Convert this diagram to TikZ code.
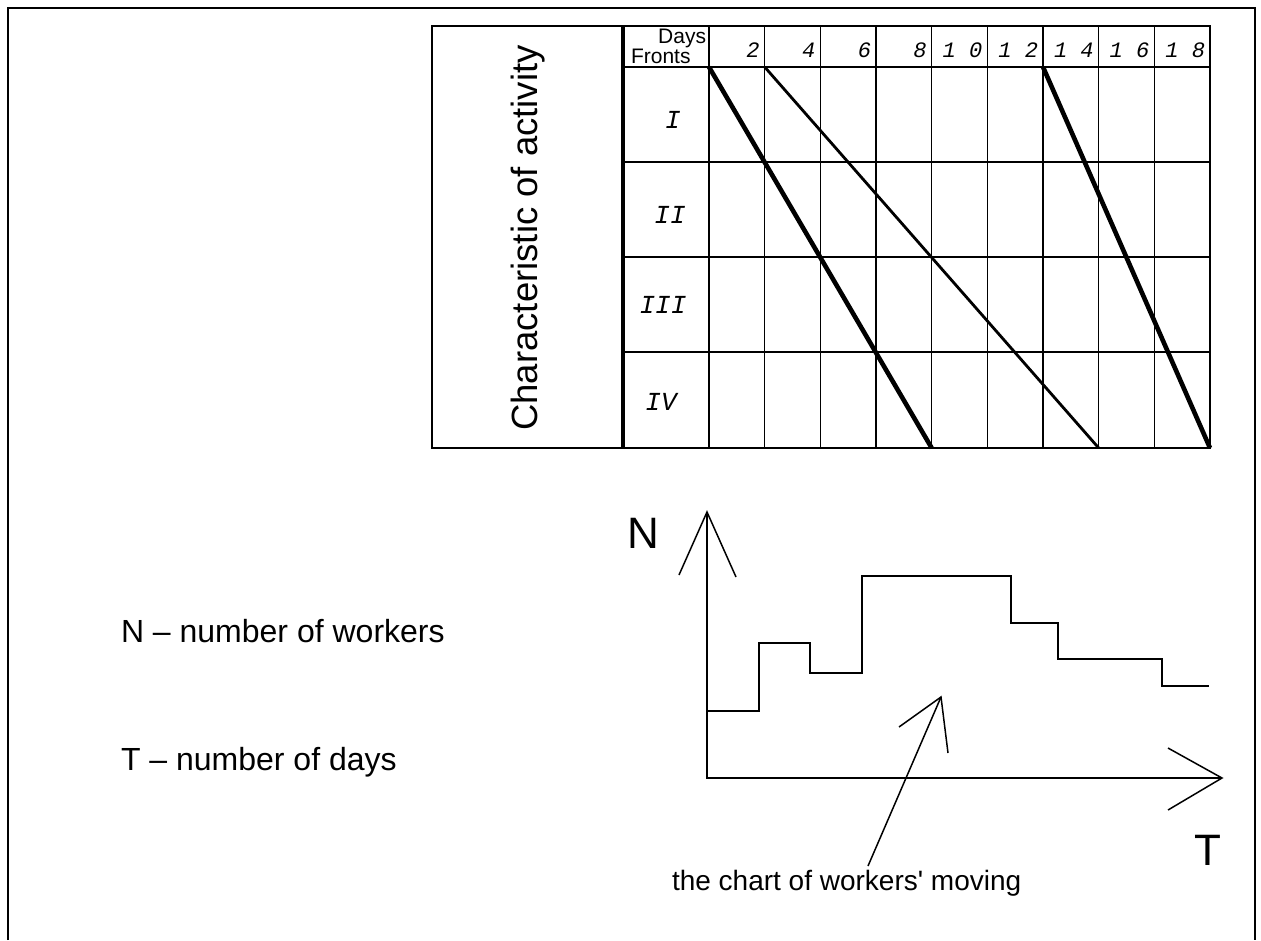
\documentclass[tikz,border=0pt]{standalone}
\usepackage{fontspec}
\setmainfont{Liberation Sans}
\newfontfamily\plainsans{Liberation Sans}
\newfontfamily\monofnt{Liberation Mono}
\begin{document}
\begin{tikzpicture}[x=1pt,y=-1pt,line join=miter,
  frame/.style={line width=2pt},
  gridline/.style={line width=1.6pt},
  heavyline/.style={line width=4.6pt},
  lightline/.style={line width=2.8pt},
  plotline/.style={line width=1.8pt},
  barb/.style={line width=1.5pt},
  txt/.style={inner sep=0pt,outer sep=0pt},
  bigtxt/.style={txt,font=\fontsize{32}{36}\selectfont},
  captxt/.style={txt,font=\plainsans\fontsize{28}{32}\selectfont},
  axtxt/.style={txt,font=\fontsize{44}{48}\selectfont},
  sidetxt/.style={txt,font=\fontsize{36.5}{40}\selectfont,rotate=90},
  headtxt/.style={txt,font=\fontsize{21}{22}\selectfont},
  numtxt/.style={txt,font=\monofnt\itshape\fontsize{22}{24}\selectfont},
  romtxt/.style={txt,font=\monofnt\itshape\fontsize{26}{28}\selectfont}]
\useasboundingbox (0,0) rectangle (1261,940);
% outer frame (open at the bottom)
\draw[frame] (8,940) -- (8,8) -- (1255,8) -- (1255,940);
% ---------- table ----------
\draw[gridline] (432,26) rectangle (1210,448);
\draw[line width=3.6pt] (623,26) -- (623,448);
\foreach \y in {67,162,257,352}
  \draw[gridline] (623,\y) -- (1210,\y);
\foreach \k in {0,...,8}
  \draw[gridline] ({709+\k*55.667},26) -- ({709+\k*55.667},448);
% header
\node[headtxt,anchor=base east] (days) at (706,43) {Days};
\node[headtxt,anchor=base west] (fronts) at (631,63) {Fronts};
\foreach \n/\k in {2/1,4/2,6/3,8/4,1 0/5,1 2/6,1 4/7,1 6/8,1 8/9}
  \node[numtxt,anchor=base east] (num\k) at ({709+\k*55.667-5},57) {\n};
% row labels
\node[romtxt] (r1) at (673,120) {I};
\node[romtxt] (r2) at (670,215) {II};
\node[romtxt] (r3) at (663,305) {III};
\node[romtxt] (r4) at (661,402) {IV};
% side label
\node[sidetxt] (side) at (528,238) {Characteristic of activity};
% schedule lines
\coordinate (a1) at (709,67);      \coordinate (a2) at (931.7,448);
\coordinate (b1) at (764.7,67);    \coordinate (b2) at (1098.7,448);
\coordinate (c1) at (1043,67);     \coordinate (c2) at (1210,448);
\draw[heavyline] (a1) -- (a2);
\draw[lightline] (b1) -- (b2);
\draw[heavyline] (c1) -- (c2);
% ---------- chart ----------
\coordinate (O) at (707,778);
\coordinate (Ntip) at (707,512);
\coordinate (Ttip) at (1222,778);
\draw[plotline] (Ntip) -- (O) -- (Ttip);
\coordinate (nb1) at (679,575); \coordinate (nb2) at (736,577);
\coordinate (tb1) at (1168,748); \coordinate (tb2) at (1168,810);
\draw[barb] (nb1) -- (Ntip) -- (nb2);
\draw[barb] (tb1) -- (Ttip) -- (tb2);
\node[axtxt] (Nlab) at (643,533) {N};
\node[axtxt] (Tlab) at (1208,850) {T};
\draw[plotline] (707,711) -- (759,711) -- (759,643) -- (810,643) -- (810,673)
  -- (862,673) -- (862,576) -- (1011,576) -- (1011,623) -- (1058,623)
  -- (1058,659) -- (1162,659) -- (1162,686) -- (1209,686);
% pointer
\node[captxt,anchor=base west] (cap) at (672,890) {the chart of workers' moving};
\coordinate (ptail) at (868,866);
\coordinate (ptip) at (941,697);
\coordinate (pb1) at (899,727); \coordinate (pb2) at (948,753);
\draw[barb] (ptail) -- (ptip);
\draw[barb] (pb1) -- (ptip) -- (pb2);
% legend
\node[bigtxt,anchor=base west] (legN) at (121,642) {N – number of workers};
\node[bigtxt,anchor=base west] (legT) at (121,770) {T – number of days};
\end{tikzpicture}
\end{document}
